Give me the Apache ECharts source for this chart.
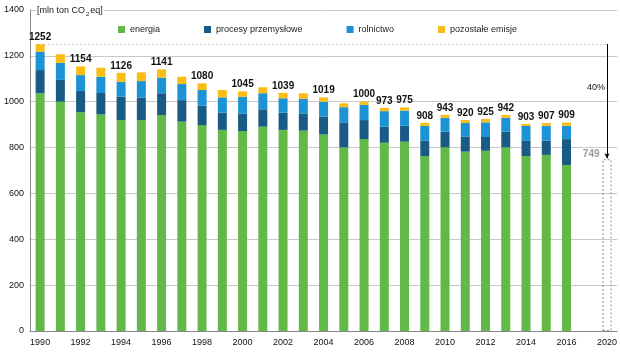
<!DOCTYPE html>
<html>
<head>
<meta charset="utf-8">
<script src="https://cdn.jsdelivr.net/npm/echarts@6/dist/echarts.min.js"></script>
<style>
  html, body { margin: 0; padding: 0; background: #fff; }
  #chart { width: 620px; height: 354px; }
</style>
</head>
<body>
<div id="chart"></div>
<script>
// lata 1990-2016, pusta kolumna i cel na 2020
var years = ['1990','1991','1992','1993','1994','1995','1996','1997','1998','1999',
             '2000','2001','2002','2003','2004','2005','2006','2007','2008','2009',
             '2010','2011','2012','2013','2014','2015','2016','','2020'];

var energia   = [1037,1000,954,945,920,920,942,913,898,877,872,891,877,874,857,801,837,821,826,763,801,782,786,801,763,768,724];
var procesy   = [101,95,93,93,102,97,95,94,85,75,77,76,75,75,78,109,83,70,69,67,68,65,60,68,66,62,113];
var rolnictwo = [80,74,69,71,65,73,68,70,68,67,73,70,63,63,65,66,66,68,66,64,61,60,64,61,65,65,58];
var pozostale = [34,38,38,39,39,38,36,32,29,32,23,26,24,25,19,17,14,14,14,14,13,13,15,12,9,12,14];

// sumy podpisane nad słupkami
var totals = [1252,null,1154,null,1126,null,1141,null,1080,null,1045,null,1039,null,1019,null,1000,973,975,908,943,920,925,942,903,907,909];

var base1990 = 1252;
var target2020 = 749;
var reduction = '40%';

var FONT = '"Liberation Sans", Arial, sans-serif';

function pad(arr) {
	return arr.concat(['-', '-']);
}

var targetData = [];
for (var i = 0; i < years.length - 1; i++) targetData.push('-');
targetData.push(target2020);

var last = years.length - 1;

var option = {
	animation: false,
	textStyle: { fontFamily: FONT },
	grid: { left: 30, right: 2, top: 10, bottom: 23 },
	legend: {
		top: 20,
		left: 113,
		itemWidth: 7,
		itemHeight: 7,
		itemGap: 44,
		icon: 'rect',
		textStyle: { fontSize: 9, color: '#222', fontFamily: FONT },
		data: ['energia', 'procesy przemysłowe', 'rolnictwo', 'pozostałe emisje']
	},
	xAxis: {
		type: 'category',
		data: years,
		axisLine: { lineStyle: { color: '#888' } },
		axisTick: { show: false },
		axisLabel: { interval: 1, fontSize: 9, color: '#111', margin: 7, fontFamily: FONT }
	},
	yAxis: {
		type: 'value',
		min: 0,
		max: 1400,
		interval: 200,
		name: '{sp|}{a|[mln ton CO}{s|2}{a|eq]}',
		nameLocation: 'end',
		nameGap: -1,
		nameTextStyle: {
			align: 'left',
			verticalAlign: 'middle',
			rich: {
				sp: { width: 6 },
				a: { fontSize: 9, color: '#222', backgroundColor: '#fff', padding: [2, 1, 2, 1], fontFamily: FONT },
				s: { fontSize: 6, color: '#222', backgroundColor: '#fff', padding: [6, 0, 0, 0], fontFamily: FONT }
			}
		},
		axisLine: { show: true, lineStyle: { color: '#888' } },
		axisTick: { show: false },
		axisLabel: {
			fontSize: 9, color: '#111', margin: 6, fontFamily: FONT,
			formatter: function(v) { return String(v); }
		},
		splitLine: { lineStyle: { color: '#c8c8c8' } }
	},
	series: [
		{
			name: 'energia', type: 'bar', stack: 'total', barWidth: 9,
			itemStyle: { color: '#62b948' },
			data: pad(energia)
		},
		{
			name: 'procesy przemysłowe', type: 'bar', stack: 'total', barWidth: 9,
			itemStyle: { color: '#1a5b85' },
			data: pad(procesy)
		},
		{
			name: 'rolnictwo', type: 'bar', stack: 'total', barWidth: 9,
			itemStyle: { color: '#1b93d4' },
			data: pad(rolnictwo)
		},
		{
			name: 'pozostałe emisje', type: 'bar', stack: 'total', barWidth: 9,
			itemStyle: { color: '#fbbd14' },
			label: {
				show: true,
				position: 'top',
				distance: 2,
				fontSize: 10,
				fontWeight: 'bold',
				color: '#111',
				fontFamily: FONT,
				formatter: function(p) {
					var t = totals[p.dataIndex];
					return t ? String(t) : '';
				}
			},
			data: pad(pozostale)
		},
		{
			name: 'cel 2020', type: 'bar', stack: 'total', barWidth: 8,
			itemStyle: {
				color: 'rgba(0,0,0,0)',
				borderColor: '#8a8a8a',
				borderWidth: 1,
				borderType: [2, 2]
			},
			label: {
				show: true,
				position: [-3, -5],
				align: 'right',
				verticalAlign: 'middle',
				fontSize: 10,
				fontWeight: 'bold',
				color: '#9a9a9a',
				fontFamily: FONT,
				formatter: function(p) { return p.value; }
			},
			markLine: {
				silent: true,
				label: { show: false },
				data: [
					[
						{ coord: [0, base1990], symbol: 'none', lineStyle: { color: '#cfcfcf', type: [2, 2], width: 1 } },
						{ coord: [last, base1990], symbol: 'none' }
					],
					[
						{ coord: [last, base1990], symbol: 'none', lineStyle: { color: '#000', type: 'solid', width: 1 } },
						{ coord: [last, target2020 + 4], symbol: 'arrow', symbolSize: [4, 5] }
					]
				]
			},
			markPoint: {
				silent: true,
				symbolSize: 0,
				data: [
					{
						coord: [last, 1060],
						label: {
							show: true,
							position: 'left',
							distance: 2,
							fontSize: 9,
							color: '#111',
							fontFamily: FONT,
							formatter: reduction
						}
					}
				]
			},
			data: targetData
		}
	]
};

var myChart = echarts.init(document.getElementById('chart'));
myChart.setOption(option);
</script>
</body>
</html>
